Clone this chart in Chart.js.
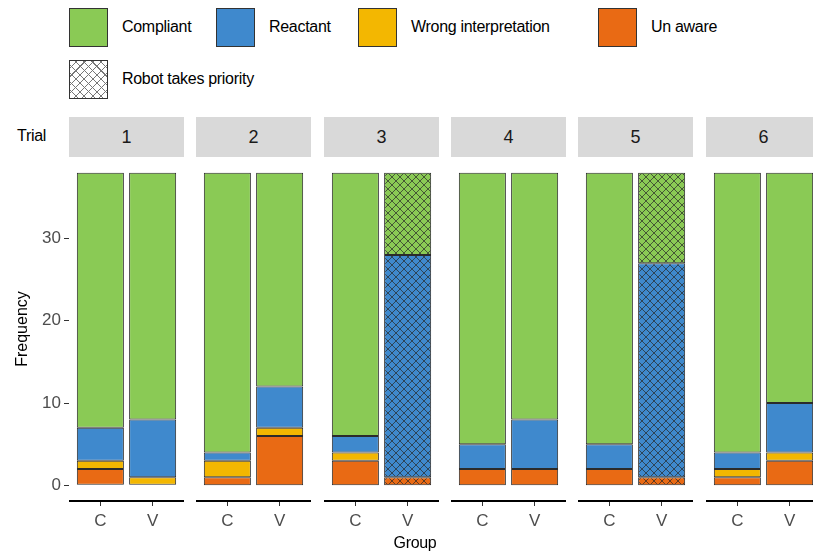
<!DOCTYPE html>
<html>
<head>
<meta charset="utf-8">
<script src="https://cdn.jsdelivr.net/npm/chart.js@4.4.0/dist/chart.umd.min.js"></script>
<style>
  body { margin: 0; width: 813px; height: 551px; overflow: hidden; position: relative; background: #fff;
         font-family: "Liberation Sans", Arial, sans-serif; }
  .abs { position: absolute; }
  .clave { position: absolute; width: 37px; height: 37px; border: 1px solid #333; box-sizing: content-box; }
  .etiqueta { position: absolute; font-size: 16px; line-height: 38px; color: #000; white-space: nowrap; letter-spacing: -0.3px; }
  .tira { position: absolute; top: 117px; height: 40px; background: #d9d9d9; color: #1a1a1a;
          font-size: 18px; line-height: 40px; text-align: center; }
  canvas { position: absolute; }
  .rayado { background-color: #fff;
    background-image: repeating-linear-gradient(45deg, transparent 0, transparent 5px, #777 5px, #777 6px),
                      repeating-linear-gradient(-45deg, transparent 0, transparent 5px, #777 5px, #777 6px); }
</style>
</head>
<body>
<div id="leyenda"></div>
<div class="abs" style="left:17px; top:127px; font-size:16px; letter-spacing:-0.3px;">Trial</div>
<div id="paneles"></div>
<div class="abs" style="left:0; width:830px; top:534px; text-align:center; font-size:16px; letter-spacing:-0.3px;">Group</div>

<script>
const trials = ["1", "2", "3", "4", "5", "6"];
const groups = ["C", "V"];
// valores por trial: [C, V]
const unaware     = [[2, 0], [1, 6], [3, 1],  [2, 2], [2, 1],  [1, 3]];
const wrongInterp = [[1, 1], [2, 1], [1, 0],  [0, 0], [0, 0],  [1, 1]];
const reactant    = [[4, 7], [1, 5], [2, 27], [3, 6], [3, 26], [2, 6]];
const compliant   = [[31, 30], [34, 26], [32, 10], [33, 30], [33, 11], [34, 28]];
const robotPriority = [[false, false], [false, false], [false, true], [false, false], [false, true], [false, false]];
const yTicks = [0, 10, 20, 30];

// orden de apilado: de abajo hacia arriba
const estados = [
    { nombre: "Un aware", valores: unaware, color: "#e96a14" },
    { nombre: "Wrong interpretation", valores: wrongInterp, color: "#f3b701" },
    { nombre: "Reactant", valores: reactant, color: "#3f89cd" },
    { nombre: "Compliant", valores: compliant, color: "#8aca55" }
];

function crearPatron(color) {
    const c = document.createElement("canvas");
    c.width = 8;
    c.height = 8;
    const g = c.getContext("2d");
    g.fillStyle = color;
    g.fillRect(0, 0, 8, 8);
    g.strokeStyle = "rgba(40,40,40,0.7)";
    g.lineWidth = 1;
    g.beginPath();
    g.moveTo(0, 0); g.lineTo(8, 8);
    g.moveTo(8, 0); g.lineTo(0, 8);
    g.stroke();
    return g.createPattern(c, "repeat");
}

// linea del eje x, de borde a borde del panel
const lineaEjeX = {
    id: "lineaEjeX",
    afterDraw(chart) {
        const { ctx, chartArea } = chart;
        ctx.save();
        ctx.setTransform(1, 0, 0, 1, 0, 0);
        ctx.globalAlpha = 1;
        ctx.globalCompositeOperation = "source-over";
        ctx.setLineDash([]);
        ctx.fillStyle = "#000";
        ctx.fillRect(chartArea.left, chartArea.bottom - 1, chartArea.right - chartArea.left, 2);
        ctx.restore();
    }
};

// leyenda
const leyenda = document.getElementById("leyenda");
const itemsLeyenda = [
    { texto: "Compliant", color: "#8aca55", x: 69, y: 8 },
    { texto: "Reactant", color: "#3f89cd", x: 216, y: 8 },
    { texto: "Wrong interpretation", color: "#f3b701", x: 358, y: 8 },
    { texto: "Un aware", color: "#e96a14", x: 598, y: 8 },
    { texto: "Robot takes priority", color: null, x: 69, y: 60 }
];
itemsLeyenda.forEach(item => {
    const clave = document.createElement("div");
    clave.className = "clave" + (item.color ? "" : " rayado");
    if (item.color) clave.style.background = item.color;
    clave.style.left = item.x + "px";
    clave.style.top = item.y + "px";
    leyenda.appendChild(clave);

    const etiqueta = document.createElement("div");
    etiqueta.className = "etiqueta";
    etiqueta.textContent = item.texto;
    etiqueta.style.left = (item.x + 53) + "px";
    etiqueta.style.top = item.y + "px";
    leyenda.appendChild(etiqueta);
});

// paneles
const paneles = document.getElementById("paneles");
const anchoPanel = 115;
const anchoEjeY = 69;

trials.forEach((trial, i) => {
    const izquierda = Math.round(69 + 127.3 * i);

    const tira = document.createElement("div");
    tira.className = "tira";
    tira.style.left = izquierda + "px";
    tira.style.width = anchoPanel + "px";
    tira.textContent = trial;
    paneles.appendChild(tira);

    const conEje = i === 0;
    const canvas = document.createElement("canvas");
    canvas.width = anchoPanel + (conEje ? anchoEjeY : 0);
    canvas.height = 380;
    canvas.style.left = (izquierda - (conEje ? anchoEjeY : 0)) + "px";
    canvas.style.top = "157px";
    paneles.appendChild(canvas);

    const datasets = estados.map(estado => ({
        label: estado.nombre,
        data: groups.map((g, j) => ({ x: j + 1, y: estado.valores[i][j] || null })),
        backgroundColor: groups.map((g, j) => robotPriority[i][j] ? crearPatron(estado.color) : estado.color),
        borderColor: "#2b2b2b",
        borderWidth: 1,
        borderSkipped: false,
        barPercentage: 0.9,
        categoryPercentage: 1,
        stack: "s"
    }));

    new Chart(canvas.getContext("2d"), {
        type: "bar",
        data: { datasets: datasets },
        plugins: [lineaEjeX],
        options: {
            responsive: false,
            animation: false,
            devicePixelRatio: 1,
            layout: { padding: 0 },
            plugins: { legend: { display: false }, tooltip: { enabled: false } },
            scales: {
                x: {
                    type: "linear",
                    min: 0.4,
                    max: 2.6,
                    offset: false,
                    afterBuildTicks: s => { s.ticks = groups.map((g, j) => ({ value: j + 1 })); },
                    ticks: {
                        callback: v => groups[v - 1],
                        font: { size: 17, family: "Liberation Sans" },
                        color: "#4d4d4d",
                        padding: 5,
                        maxRotation: 0,
                        autoSkip: false
                    },
                    grid: {
                        offset: false,
                        drawOnChartArea: false,
                        drawTicks: true,
                        tickLength: 5,
                        tickWidth: 1,
                        tickColor: "#333"
                    },
                    border: { display: false },
                    afterFit: s => {
                        s.height = 36;
                        s.paddingLeft = 0;
                        s.paddingRight = 0;
                    }
                },
                y: {
                    type: "linear",
                    min: -1.9,
                    max: 39.9,
                    stacked: true,
                    display: conEje,
                    afterBuildTicks: s => { s.ticks = yTicks.map(v => ({ value: v })); },
                    ticks: { font: { size: 17, family: "Liberation Sans" }, color: "#4d4d4d", padding: 3 },
                    grid: { drawOnChartArea: false, tickLength: 5, tickColor: "#333", tickWidth: 1 },
                    border: { display: false },
                    title: {
                        display: true,
                        text: "Frequency",
                        font: { size: 16, family: "Liberation Sans" },
                        color: "#000",
                        padding: { top: 13, bottom: 0 }
                    },
                    afterFit: s => {
                        if (conEje) s.width = anchoEjeY;
                        s.paddingTop = 0;
                        s.paddingBottom = 0;
                    }
                }
            }
        }
    });
});
</script>
</body>
</html>
